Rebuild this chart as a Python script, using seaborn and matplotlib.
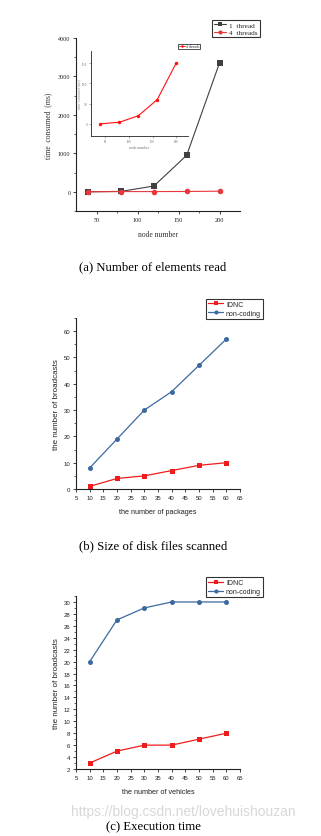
import matplotlib
matplotlib.use("Agg")
import matplotlib.pyplot as plt
import seaborn as sns
import numpy as np
import pandas as pd
from matplotlib.ticker import MultipleLocator, FixedLocator

sns.set_theme(style="ticks")
plt.rcParams['font.family'] = ['DejaVu Sans']

# ---- data ----
nodes = [40, 80, 120, 160, 200]
one_thread = [0, 10, 150, 950, 3350]
four_threads = [0, 5, 5, 8, 15]
inset_vals = [0.0, 0.4, 2.0, 6.0, 15.0]

packages = [10, 20, 30, 40, 50, 60]
idnc_b = [1, 4, 5, 7, 9, 10]
noncoding_b = [8, 19, 30, 37, 47, 57]

vehicles = [10, 20, 30, 40, 50, 60]
idnc_c = [3, 5, 6, 6, 7, 8]
noncoding_c = [20, 27, 29, 30, 30, 30]

W, H = 321, 837
fig = plt.figure(figsize=(W / 100, H / 100), dpi=100)
fig.patch.set_facecolor("white")

def rect(l, t, r, b):
    return [l / W, 1 - b / H, (r - l) / W, (b - t) / H]

SERIF = ['Liberation Serif', 'DejaVu Serif']
SANS = ['Liberation Sans', 'DejaVu Sans']
RED_A = '#e8383c'
GRAY = '#404040'
RED = '#ee1c1c'
BLUE = '#3c6aa0'

def style_axes(ax, fam, fs):
    for s in ['top', 'right']:
        ax.spines[s].set_visible(False)
    for s in ['left', 'bottom']:
        ax.spines[s].set_linewidth(0.8)
        ax.spines[s].set_color('#222222')
    ax.tick_params(which='major', direction='out', length=2.5, width=0.6, pad=1.5,
                   labelsize=fs, colors='#222222')
    ax.tick_params(which='minor', direction='out', length=1.5, width=0.5)
    for lab in ax.get_xticklabels() + ax.get_yticklabels():
        lab.set_family(fam)
    ax.set_facecolor('white')
    ax.grid(False)

# ---- panel (a) ----
axa = fig.add_axes(rect(76, 39, 240, 212))
dfa = pd.DataFrame({'node': nodes * 2, 'time': one_thread + four_threads,
                    'series': ['1 thread'] * 5 + ['4 threads'] * 5})
sns.lineplot(data=dfa, x='node', y='time', hue='series', style='series',
             palette={'1 thread': GRAY, '4 threads': RED_A},
             markers={'1 thread': 's', '4 threads': 'o'}, dashes=False,
             markersize=4, markeredgewidth=0, linewidth=0.8, ax=axa, legend=False)
axa.set_xlim(25, 225)
axa.set_ylim(-500, 4000)
axa.xaxis.set_major_locator(FixedLocator([50, 100, 150, 200]))
axa.xaxis.set_minor_locator(FixedLocator([75, 125, 175]))
axa.yaxis.set_major_locator(MultipleLocator(1000))
axa.yaxis.set_minor_locator(MultipleLocator(500))
style_axes(axa, SERIF, 4.4)
axa.set_xlabel('node number', family=SERIF, fontsize=5.5, color='#333333', labelpad=6)
axa.set_ylabel('time  consumed  (ms)', family=SERIF, fontsize=5.5, color='#333333', labelpad=4)
ha = [plt.Line2D([], [], color=GRAY, marker='s', markersize=3, lw=0.8, markeredgewidth=0),
      plt.Line2D([], [], color=RED_A, marker='o', markersize=3, lw=0.8, markeredgewidth=0)]
leg = fig.legend(ha, ['1  thread', '4  threads'], loc='upper right',
                 bbox_to_anchor=(260 / W, 1 - 20.5 / H), prop={'family': SERIF, 'size': 5.2},
                 frameon=True, fancybox=False, handlelength=1.6, handletextpad=0.5,
                 borderpad=0.3, labelspacing=0.2, borderaxespad=0)
leg.get_frame().set_edgecolor('black')
leg.get_frame().set_linewidth(0.8)

# inset
axi = fig.add_axes(rect(91, 52, 188, 137))
sns.lineplot(x=nodes, y=inset_vals, color='#ff1010', marker='o', markersize=2.5,
             markeredgewidth=0, linewidth=0.8, ax=axi)
axi.set_xlim(20, 225)
axi.set_ylim(-3, 18)
axi.xaxis.set_major_locator(FixedLocator([50, 100, 150, 200]))
axi.xaxis.set_minor_locator(FixedLocator([75, 125, 175]))
axi.yaxis.set_major_locator(FixedLocator([0, 5, 10, 15]))
axi.set_yticklabels(['0', '5.0', '10.0', '15.0'])
style_axes(axi, SERIF, 2.2)
axi.tick_params(which='major', length=1.5, width=0.4, pad=1, colors='#666666')
axi.tick_params(which='minor', length=1, width=0.3)
for s in ['left', 'bottom']:
    axi.spines[s].set_linewidth(0.6)
axi.set_xlabel('node number', family=SERIF, fontsize=2.8, color='#777777', labelpad=1)
axi.set_ylabel('time consumed (ms)', family=SERIF, fontsize=2.6, color='#888888', labelpad=1)
hi = [plt.Line2D([], [], color='#ff1010', marker='o', markersize=1.8, lw=0.6, markeredgewidth=0)]
legi = fig.legend(hi, ['4 threads'], loc='upper right', bbox_to_anchor=(200 / W, 1 - 44.5 / H),
                  prop={'family': SERIF, 'size': 2.6}, frameon=True, fancybox=False,
                  handlelength=1.6, handletextpad=0.3, borderpad=0.2, borderaxespad=0)
legi.get_frame().set_edgecolor('black')
legi.get_frame().set_linewidth(0.6)

fig.text(153 / W, 1 - 267 / H, '(a) Number of elements read', ha='center', va='center',
         family=SERIF, fontsize=9.2, color='black')

# ---- panels (b) and (c) ----
def broadcast_panel(box, xs, y1, y2, ylim, major, minor, xlabel, legend_top, caption, cap_y):
    ax = fig.add_axes(rect(*box))
    df = pd.DataFrame({'x': xs * 2, 'y': y1 + y2,
                       'series': ['IDNC'] * len(xs) + ['non-coding'] * len(xs)})
    sns.lineplot(data=df, x='x', y='y', hue='series', style='series',
                 palette={'IDNC': RED, 'non-coding': BLUE},
                 markers={'IDNC': 's', 'non-coding': 'o'}, dashes=False,
                 markersize=3.6, markeredgewidth=0, linewidth=0.9, ax=ax, legend=False)
    ax.set_xlim(5, 65)
    ax.set_ylim(*ylim)
    ax.xaxis.set_major_locator(MultipleLocator(5))
    ax.yaxis.set_major_locator(MultipleLocator(major))
    ax.yaxis.set_minor_locator(MultipleLocator(minor))
    style_axes(ax, SANS, 4.3)
    ax.set_xlabel(xlabel, family=SANS, fontsize=5.2, color='#222222', labelpad=6)
    ax.set_ylabel('the number of broadcasts', family=SANS, fontsize=5.8, color='#222222',
                  labelpad=3)
    hb = [plt.Line2D([], [], color=RED, marker='s', markersize=3, lw=0.9, markeredgewidth=0),
          plt.Line2D([], [], color=BLUE, marker='o', markersize=3, lw=0.9, markeredgewidth=0)]
    lg = fig.legend(hb, ['IDNC', 'non-coding'], loc='upper right',
                    bbox_to_anchor=(263 / W, 1 - legend_top / H),
                    prop={'family': SANS, 'size': 5.0}, frameon=True, fancybox=False,
                    handlelength=2.2, handletextpad=0.4, borderpad=0.3, labelspacing=0.3,
                    borderaxespad=0)
    lg.get_frame().set_edgecolor('black')
    lg.get_frame().set_linewidth(0.8)
    fig.text(153 / W, 1 - cap_y / H, caption, ha='center', va='center',
             family=SERIF, fontsize=9.2, color='black')
    return ax

broadcast_panel((76, 319, 240, 490), packages, idnc_b, noncoding_b, (0, 65), 10, 5,
                'the number of packages', 299.5, '(b) Size of disk files scanned', 546.5)

fig.text(183 / W, 1 - 812 / H, 'https://blog.csdn.net/lovehuishouzan', ha='center',
         va='center', family=SANS, fontsize=10, color='#d8d8d8')

broadcast_panel((76, 597, 240, 770), vehicles, idnc_c, noncoding_c, (2, 31), 2, 1,
                'the number of vehicles', 578, '(c) Execution time', 827.5)

fig.savefig('out.png', dpi=100, facecolor='white')
